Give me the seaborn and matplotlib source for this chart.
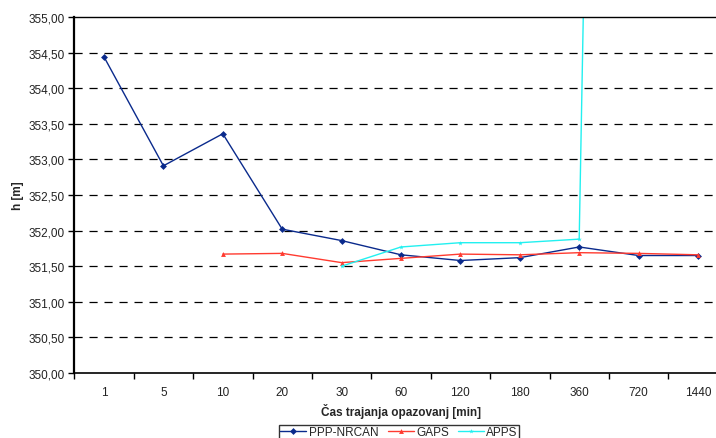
import numpy as np
import pandas as pd
import matplotlib
matplotlib.use("Agg")
import matplotlib.pyplot as plt
from matplotlib.ticker import FuncFormatter, MultipleLocator, FixedLocator
import seaborn as sns

# observation durations [min]
durations = ["1", "5", "10", "20", "30", "60", "120", "180", "360", "720", "1440"]

ppp_nrcan = [354.44, 352.91, 353.36, 352.02, 351.86, 351.66, 351.58, 351.62, 351.77, 351.65, 351.65]
gaps = [np.nan, np.nan, 351.67, 351.68, 351.55, 351.61, 351.67, 351.66, 351.69, 351.68, 351.66]
apps = [np.nan, np.nan, np.nan, np.nan, 351.50, 351.77, 351.83, 351.83, 351.88, 397.5, 400.0]

series = {"PPP-NRCAN": ppp_nrcan, "GAPS": gaps, "APPS": apps}

rows = []
for name, vals in series.items():
    for i, v in enumerate(vals):
        rows.append({"pos": i, "h": v, "Metoda": name})
df = pd.DataFrame(rows).dropna()

sns.set_theme(style="white")
plt.rcParams["font.family"] = ["Liberation Sans", "DejaVu Sans"]

fig = plt.figure(figsize=(7.16, 4.39), dpi=100)
ax = fig.add_axes([74.3 / 716, 1 - 374 / 439, (727.7 - 74.3) / 716, (374 - 18) / 439])

palette = {"PPP-NRCAN": "#0a2a8c", "GAPS": "#ff3b30", "APPS": "#22f0f0"}
markers = {"PPP-NRCAN": "D", "GAPS": "^", "APPS": "*"}

# gridlines
for y in np.arange(350.5, 355.0, 0.5):
    ax.axhline(y, color="black", lw=0.9, dashes=(6.5, 5.5), zorder=0)

sns.lineplot(data=df, x="pos", y="h", hue="Metoda", style="Metoda",
             palette=palette, markers=markers, dashes=False,
             markersize=3.5, markeredgewidth=0, linewidth=1.0, ax=ax, legend=True)

ax.set_xlim(-0.5, 10.5)
ax.set_ylim(350, 355)
ax.yaxis.set_major_locator(MultipleLocator(0.5))
ax.yaxis.set_major_formatter(FuncFormatter(lambda v, p: f"{v:.2f}".replace(".", ",")))
ax.set_xticks(range(len(durations)))
ax.set_xticklabels(durations)
ax.xaxis.set_minor_locator(FixedLocator(np.arange(-0.5, 11, 1.0)))
ax.tick_params(axis="x", which="major", length=0, pad=9, labelsize=8.5, colors="#222222")
ax.tick_params(axis="x", which="minor", length=4, width=1, color="black", direction="out", bottom=True)
ax.tick_params(axis="y", which="major", length=4, width=1, color="black", direction="out",
               left=True, labelsize=8.5, labelcolor="#222222", pad=3)

for side in ["left", "bottom", "top"]:
    ax.spines[side].set_visible(True)
    ax.spines[side].set_color("black")
ax.spines["left"].set_linewidth(1.6)
ax.spines["bottom"].set_linewidth(1.2)
ax.spines["top"].set_linewidth(1.0)
ax.spines["right"].set_visible(False)

ax.set_xlabel("Čas trajanja opazovanj [min]", fontsize=8.5, fontweight="bold", labelpad=4)
ax.set_ylabel("h [m]", fontsize=8.5, fontweight="bold", labelpad=3)

handles, labels = ax.get_legend_handles_labels()
leg = fig.legend(handles, labels, loc="upper center", bbox_to_anchor=(399 / 716, 1 - 420 / 439),
                 ncol=3, frameon=True, fontsize=8.5, handlelength=2.2, handletextpad=0.2,
                 columnspacing=0.8, borderpad=0.1, fancybox=False, edgecolor="black")
leg.get_frame().set_linewidth(1.0)
ax.get_legend().remove()

fig.savefig("out.png", dpi=100)
